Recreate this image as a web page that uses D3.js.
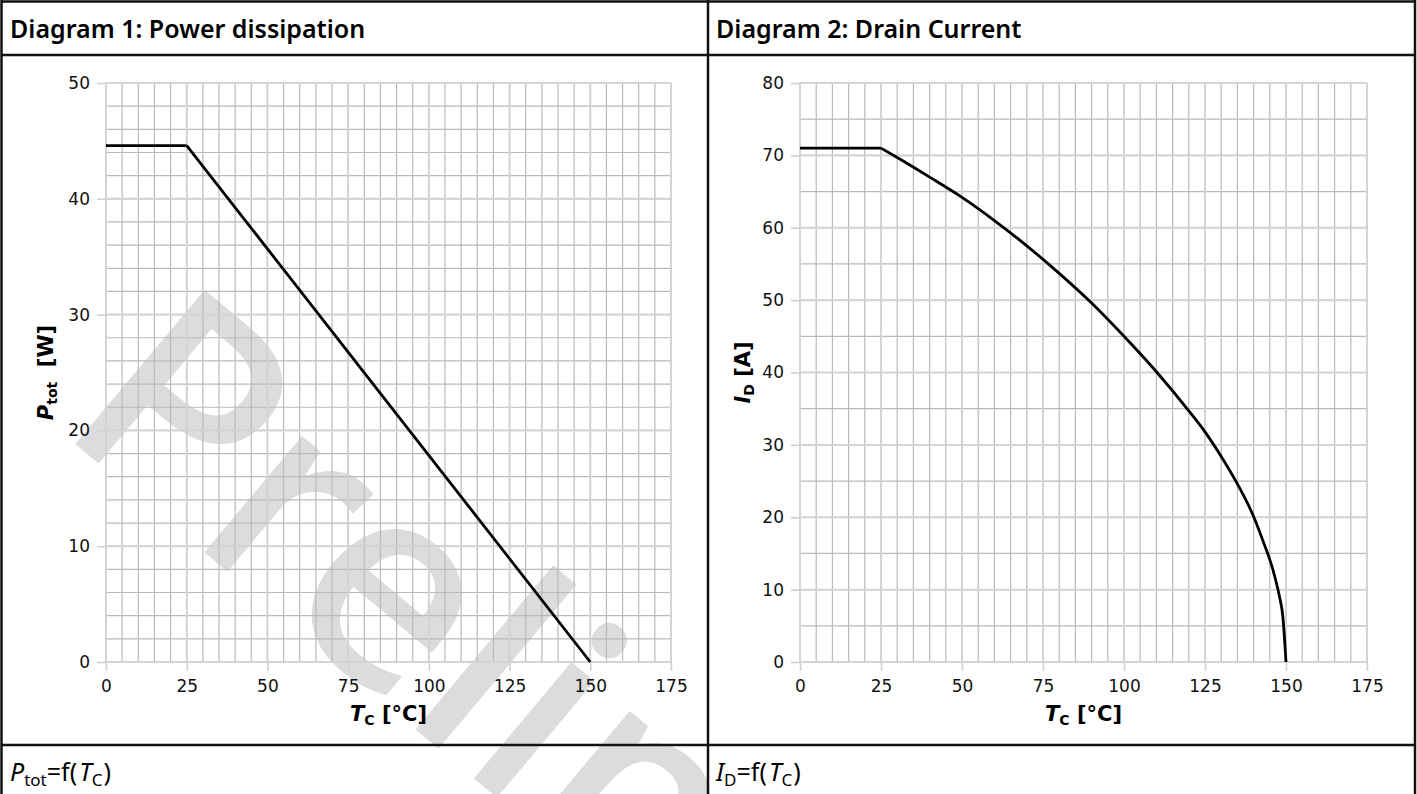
<!DOCTYPE html>
<html>
<head>
<meta charset="utf-8">
<script src="https://cdn.jsdelivr.net/npm/d3@7"></script>
<style>
  html, body { margin: 0; padding: 0; background: #fff; }
  svg { display: block; }
  .dv { font-family: 'DejaVu Sans', sans-serif; }
  .ns { font-family: 'Noto Sans', sans-serif; }
</style>
</head>
<body>
<svg width="1417" height="794"></svg>
<script>
// data
var xTicks = [0, 25, 50, 75, 100, 125, 150, 175];
var powerTicks = [0, 10, 20, 30, 40, 50];
var currentTicks = [0, 10, 20, 30, 40, 50, 60, 70, 80];

var powerTemp = [0, 25, 150];
var powerValues = [44.6, 44.6, 0];

var currentTemp = [0, 25, 30, 40, 50, 60, 70, 80, 90, 100, 110, 120, 125, 130, 135, 140, 143, 146, 148, 149, 150];
var currentValues = [71, 71, 69.7, 67.0, 64.2, 61.0, 57.5, 53.7, 49.6, 45.0, 40.1, 34.7, 31.8, 28.4, 24.6, 20.1, 16.6, 12.7, 9.0, 6.4, 0];

var svg = d3.select("svg");
var W = 1417, H = 794;

svg.append("rect").attr("width", W).attr("height", H).attr("fill", "#fff");

// watermark behind everything
svg.append("text")
    .attr("class", "ns")
    .attr("transform", "translate(55,427) rotate(40)")
    .attr("font-size", 282)
    .attr("font-weight", 500)
    .attr("fill", "#dcdcdc")
    .text("Preliminary");

// table frame
var frame = svg.append("g").attr("stroke", "#111").attr("stroke-width", 2.5);
frame.append("line").attr("x1", 1).attr("x2", 1415).attr("y1", 1.5).attr("y2", 1.5);
frame.append("line").attr("x1", 1).attr("x2", 1415).attr("y1", 55).attr("y2", 55);
frame.append("line").attr("x1", 1).attr("x2", 1415).attr("y1", 745).attr("y2", 745);
frame.append("line").attr("x1", 1.5).attr("x2", 1.5).attr("y1", 0).attr("y2", H);
frame.append("line").attr("x1", 708).attr("x2", 708).attr("y1", 0).attr("y2", H);
frame.append("line").attr("x1", 1415).attr("x2", 1415).attr("y1", 0).attr("y2", H);

function drawPanel(opt) {
    var x = d3.scaleLinear().domain([0, 175]).range([opt.left, opt.right]);
    var y = d3.scaleLinear().domain([0, opt.ymax]).range([662, 83]);
    var g = svg.append("g");

    // minor grid
    g.selectAll(".vminor").data(x.ticks(35)).enter().append("line")
        .attr("x1", d => x(d)).attr("x2", d => x(d))
        .attr("y1", y(0)).attr("y2", y(opt.ymax))
        .attr("stroke", "#bababa").attr("stroke-width", 1.2);
    g.selectAll(".hminor").data(y.ticks(opt.minorCount)).enter().append("line")
        .attr("x1", x(0)).attr("x2", x(175))
        .attr("y1", d => y(d)).attr("y2", d => y(d))
        .attr("stroke", "#bababa").attr("stroke-width", 1.2);

    // major grid
    g.selectAll(".vmajor").data(xTicks).enter().append("line")
        .attr("x1", d => x(d)).attr("x2", d => x(d))
        .attr("y1", y(0)).attr("y2", y(opt.ymax))
        .attr("stroke", "#d4d4d4").attr("stroke-width", 2);
    g.selectAll(".hmajor").data(opt.yTicks).enter().append("line")
        .attr("x1", x(0)).attr("x2", x(175))
        .attr("y1", d => y(d)).attr("y2", d => y(d))
        .attr("stroke", "#d4d4d4").attr("stroke-width", 2);

    var xAxis = g.append("g")
        .attr("transform", "translate(0," + y(0) + ")")
        .call(d3.axisBottom(x).tickValues(xTicks).tickSize(9).tickPadding(9));
    var yAxis = g.append("g")
        .attr("transform", "translate(" + x(0) + ",0)")
        .call(d3.axisLeft(y).tickValues(opt.yTicks).tickSize(9).tickPadding(7));
    [xAxis, yAxis].forEach(function(a) {
        a.attr("font-family", null).attr("font-size", null);
        a.select(".domain").remove();
        a.selectAll(".tick line").attr("stroke", "#d0d0d0").attr("stroke-width", 1.6);
        a.selectAll(".tick text")
            .attr("class", "dv")
            .style("font-size", "17px")
            .attr("fill", "#111");
    });

    // curve
    var pts = opt.xs.map((t, i) => [t, opt.ys[i]]);
    var flat = pts.slice(0, 2);
    var rest = pts.slice(1);
    var line = d3.line().x(d => x(d[0])).y(d => y(d[1]));
    g.append("path").datum(flat).attr("d", line)
        .attr("fill", "none").attr("stroke", "#000").attr("stroke-width", 2.8);
    g.append("path").datum(rest).attr("d", line.curve(d3.curveMonotoneX))
        .attr("fill", "none").attr("stroke", "#000").attr("stroke-width", 2.8)
        .attr("stroke-linejoin", "round");

    // axis titles
    var xt = g.append("text")
        .attr("class", "dv")
        .attr("x", (x(0) + x(175)) / 2).attr("y", 721)
        .attr("text-anchor", "middle")
        .style("font-weight", "bold").style("font-size", "21px");
    xt.append("tspan").style("font-style", "italic").text("T");
    xt.append("tspan").style("font-size", "14px").attr("dy", 4).text("C");
    xt.append("tspan").attr("dy", -4).text(" [°C]");

    var yt = g.append("text")
        .attr("class", "dv")
        .attr("transform", "translate(" + opt.ylabelX + "," + (y(0) + y(opt.ymax)) / 2 + ") rotate(-90)")
        .attr("text-anchor", "middle")
        .style("font-weight", "bold").style("font-size", "21px");
    yt.append("tspan").style("font-style", "italic").text(opt.ysym);
    yt.append("tspan").style("font-size", "14px").attr("dy", 4).text(opt.ysub);
    yt.append("tspan").attr("dy", -4).text(opt.ygap + "[" + opt.yunit + "]");

    // header title
    svg.append("text")
        .attr("class", "ns")
        .attr("x", opt.tx).attr("y", 38)
        .style("font-weight", 600).style("font-size", "25px")
        .attr("fill", "#000")
        .text(opt.title);

    // footer formula
    var f = svg.append("text")
        .attr("class", "ns")
        .attr("x", opt.tx).attr("y", 781)
        .style("font-size", "25px").attr("fill", "#000");
    f.append("tspan").style("font-style", "italic").text(opt.ysym);
    f.append("tspan").style("font-size", "17px").attr("dy", 5).text(opt.ysub);
    f.append("tspan").attr("dy", -5).text("=f(");
    f.append("tspan").attr("dx", 2).style("font-style", "italic").text("T");
    f.append("tspan").style("font-size", "17px").attr("dy", 5).text("C");
    f.append("tspan").attr("dy", -5).attr("dx", 1).text(")");
}

drawPanel({
    left: 106, right: 671, ymax: 50, minorCount: 25, yTicks: powerTicks,
    xs: powerTemp, ys: powerValues,
    ysym: "P", ysub: "tot", yunit: "W", ygap: "\u00a0\u00a0", ylabelX: 53,
    title: "Diagram 1: Power dissipation", tx: 10
});
drawPanel({
    left: 800, right: 1367, ymax: 80, minorCount: 16, yTicks: currentTicks,
    xs: currentTemp, ys: currentValues,
    ysym: "I", ysub: "D", yunit: "A", ygap: " ", ylabelX: 750,
    title: "Diagram 2: Drain Current", tx: 716
});
</script>
</body>
</html>
